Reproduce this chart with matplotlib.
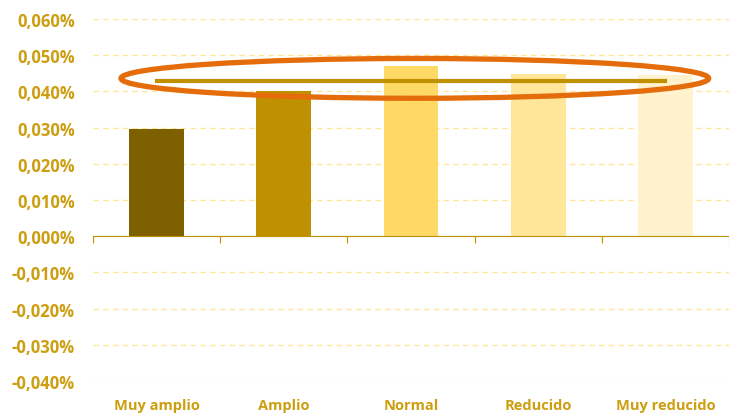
import matplotlib.pyplot as plt
import numpy as np
from matplotlib.patches import Ellipse
from matplotlib.ticker import FuncFormatter

# Rentabilidad media por grado de liquidez
categorias = ['Muy amplio', 'Amplio', 'Normal', 'Reducido', 'Muy reducido']
valores = [0.0295, 0.0400, 0.0470, 0.0447, 0.0444]
media = 0.0428
colores = ['#7F6000', '#BF9000', '#FFD966', '#FFE699', '#FFF2CC']

dorado = '#CC9E10'
plt.rcParams['font.family'] = ['Open Sans', 'DejaVu Sans']

fig = plt.figure(figsize=(7.29, 4.14), dpi=100)
ax = fig.add_axes([0.1276, 0.0773, 0.8724, 0.8744])

x = np.arange(len(categorias))
ax.bar(x, valores, width=0.43, color=colores, zorder=2)
ax.plot([x[0], x[-1]], [media, media], color='#BF9000', lw=3, zorder=3)

ax.add_patch(Ellipse((2.03, 0.0436), 4.62, 0.0110, fill=False,
                     edgecolor='#E46C0A', lw=3.8, zorder=4))

ax.set_xlim(-0.5, 4.5)
ax.set_ylim(-0.04, 0.06)
ax.set_yticks(np.arange(-0.04, 0.0601, 0.01))
ax.yaxis.set_major_formatter(FuncFormatter(lambda v, p: '{:.3f}%'.format(v).replace('.', ',')))
ax.tick_params(axis='y', length=0, pad=13, labelcolor=dorado, labelsize=12)
for lbl in ax.get_yticklabels():
    lbl.set_fontweight('bold')

# rejilla discontinua, salvo en el cero donde va el eje
for v in ax.get_yticks():
    if abs(v) > 1e-9:
        ax.axhline(v, color='#FFE699', lw=1, ls=(0, (4, 3)), zorder=1)

for s in ['left', 'right', 'top']:
    ax.spines[s].set_visible(False)
ax.spines['bottom'].set_position(('data', 0))
ax.spines['bottom'].set_color('#BF9000')
ax.set_xticks(np.arange(-0.5, 4.6, 1.0))
ax.set_xticklabels([])
ax.tick_params(axis='x', direction='out', length=5, color='#BF9000')

for i, c in enumerate(categorias):
    ax.text(i, -0.0465, c, ha='center', va='center', color=dorado,
            fontsize=10.5, fontweight='bold')

fig.savefig('out.png', dpi=100)
